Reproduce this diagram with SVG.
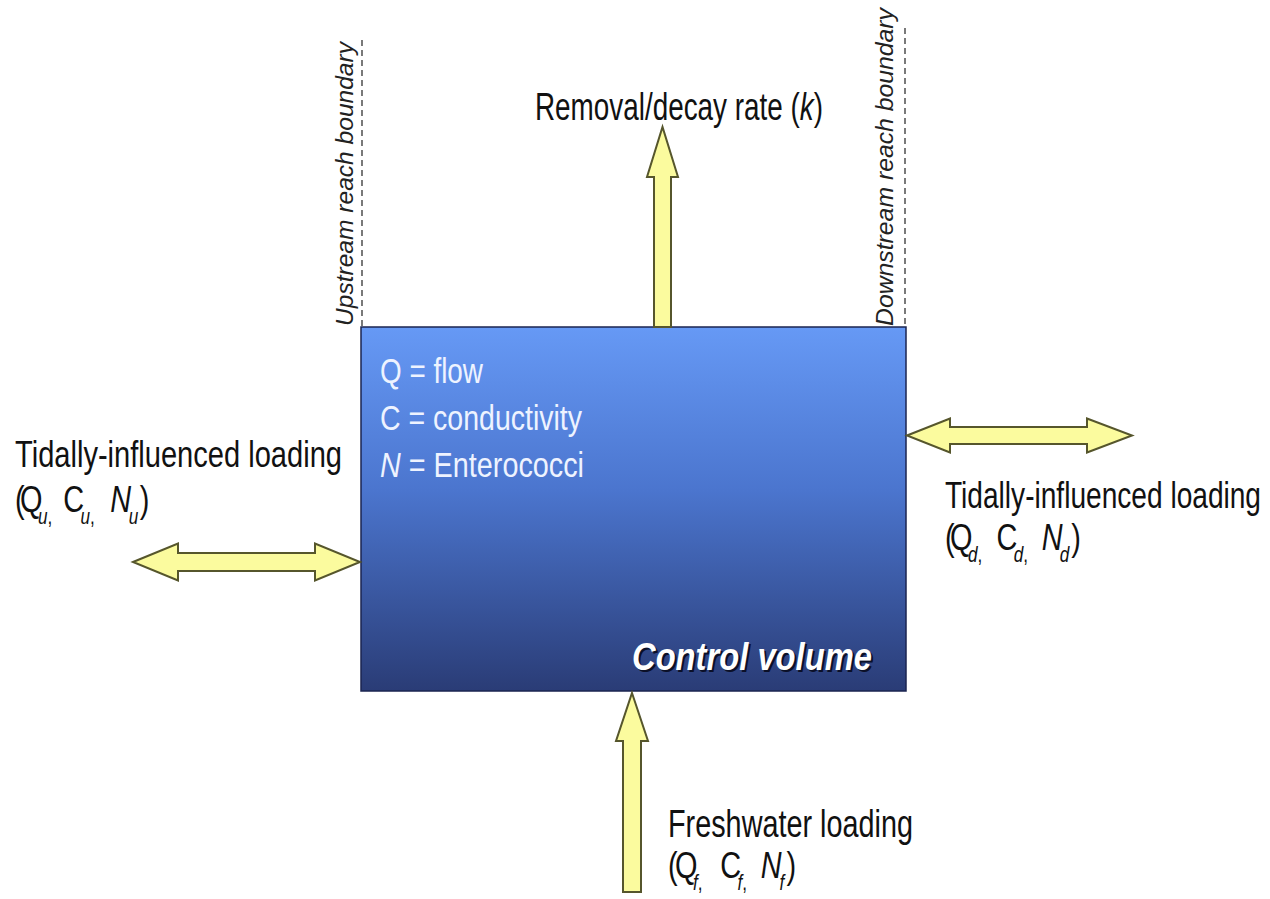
<svg xmlns="http://www.w3.org/2000/svg" width="1270" height="899" viewBox="0 0 1270 899">
<defs>
<linearGradient id="boxGrad" x1="0" y1="0" x2="0" y2="1">
<stop offset="0" stop-color="#6699f5"/>
<stop offset="0.45" stop-color="#4b75ce"/>
<stop offset="1" stop-color="#2a3c76"/>
</linearGradient>
<style>
.lbl{font-family:"Liberation Sans",Arial,sans-serif;fill:#111;}
.box-t{font-family:"Liberation Sans",Arial,sans-serif;fill:#eef3ff;}
.rot{font-family:"Liberation Sans",Arial,sans-serif;font-style:italic;fill:#222;font-size:24px;}
.arrow{fill:#fbfb9e;stroke:#56562c;stroke-width:2;stroke-linejoin:miter;}
.dash{stroke:#333;stroke-width:1.3;stroke-dasharray:6 4;fill:none;}
.it{font-style:italic;}
</style>
</defs>
<rect width="1270" height="899" fill="#ffffff"/>

<g id="boundaries">
<line class="dash" x1="362" y1="40" x2="362" y2="327"/>
<line class="dash" x1="905" y1="28" x2="905" y2="327"/>
<text class="rot" transform="translate(353,326) rotate(-90)" textLength="284" lengthAdjust="spacingAndGlyphs">Upstream reach boundary</text>
<text class="rot" transform="translate(893,326) rotate(-90)" textLength="318" lengthAdjust="spacingAndGlyphs">Downstream reach boundary</text>
</g>

<g id="control-volume">
<rect x="361" y="327" width="545" height="364" fill="url(#boxGrad)" stroke="#1b2550" stroke-width="1.5"/>
<text class="box-t" x="380" y="383" font-size="35" textLength="103" lengthAdjust="spacingAndGlyphs">Q = flow</text>
<text class="box-t" x="380" y="430" font-size="35" textLength="202" lengthAdjust="spacingAndGlyphs">C = conductivity</text>
<text class="box-t" x="380" y="477" font-size="35" textLength="204" lengthAdjust="spacingAndGlyphs"><tspan class="it">N</tspan> = Enterococci</text>
<text x="634" y="672" font-family="Liberation Sans, Arial, sans-serif" font-weight="bold" font-style="italic" font-size="38" fill="#0b1028" textLength="240" lengthAdjust="spacingAndGlyphs">Control volume</text>
<text x="632" y="670" font-family="Liberation Sans, Arial, sans-serif" font-weight="bold" font-style="italic" font-size="38" fill="#ffffff" textLength="240" lengthAdjust="spacingAndGlyphs">Control volume</text>
</g>

<g id="connectors">
<polygon id="arrow-removal" class="arrow" points="654,327 654,177 647,177 662.5,127 678,177 671,177 671,327"/>
<polygon id="arrow-downstream" class="arrow" points="907,435.5 950,418.5 950,427 1087,427 1087,418.5 1132,435.5 1087,452.5 1087,444 950,444 950,452.5"/>
<polygon id="arrow-upstream" class="arrow" points="133,562 178,543.5 178,553 315,553 315,543.5 360,562 315,580.5 315,571 178,571 178,580.5"/>
<polygon id="arrow-freshwater" class="arrow" points="632,693 648,741 641,741 641,892 623,892 623,741 616,741"/>
</g>

<g id="label-removal">
<text class="lbl" x="535" y="120" font-size="38" textLength="288" lengthAdjust="spacingAndGlyphs">Removal/decay rate (<tspan class="it">k</tspan>)</text>
</g>

<g id="label-upstream">
<text class="lbl" x="15" y="467" font-size="37" textLength="327" lengthAdjust="spacingAndGlyphs">Tidally-influenced loading</text>
<g transform="translate(15,512) scale(0.78,1)">
<text class="lbl" font-size="37"><tspan x="0" y="0">(</tspan><tspan x="6.4" y="0">Q</tspan><tspan x="29.5" y="12" font-size="22" class="it">u</tspan><tspan y="12" font-size="22">,</tspan><tspan x="62" y="0">C</tspan><tspan x="84" y="12" font-size="22" class="it">u</tspan><tspan y="12" font-size="22">,</tspan><tspan x="122" y="0" class="it">N</tspan><tspan x="146" y="12" font-size="22" class="it">u</tspan><tspan x="160" y="0">)</tspan></text>
</g>
</g>

<g id="label-downstream">
<text class="lbl" x="945" y="508" font-size="37" textLength="316" lengthAdjust="spacingAndGlyphs">Tidally-influenced loading</text>
<g transform="translate(945,550) scale(0.78,1)">
<text class="lbl" font-size="37"><tspan x="0" y="0">(</tspan><tspan x="6.4" y="0">Q</tspan><tspan x="29.5" y="12" font-size="22" class="it">d</tspan><tspan y="12" font-size="22">,</tspan><tspan x="66" y="0">C</tspan><tspan x="88" y="12" font-size="22" class="it">d</tspan><tspan y="12" font-size="22">,</tspan><tspan x="124" y="0" class="it">N</tspan><tspan x="147" y="12" font-size="22" class="it">d</tspan><tspan x="162" y="0">)</tspan></text>
</g>
</g>

<g id="label-freshwater">
<text class="lbl" x="668" y="837" font-size="38" textLength="245" lengthAdjust="spacingAndGlyphs">Freshwater loading</text>
<g transform="translate(668,878) scale(0.78,1)">
<text class="lbl" font-size="37"><tspan x="0" y="0">(</tspan><tspan x="9" y="0">Q</tspan><tspan x="32" y="12" font-size="22" class="it">f</tspan><tspan y="12" font-size="22">,</tspan><tspan x="67" y="0">C</tspan><tspan x="89" y="12" font-size="22" class="it">f</tspan><tspan y="12" font-size="22">,</tspan><tspan x="119" y="0" class="it">N</tspan><tspan x="143" y="12" font-size="22" class="it">f</tspan><tspan x="152" y="0">)</tspan></text>
</g>
</g>
</svg>
